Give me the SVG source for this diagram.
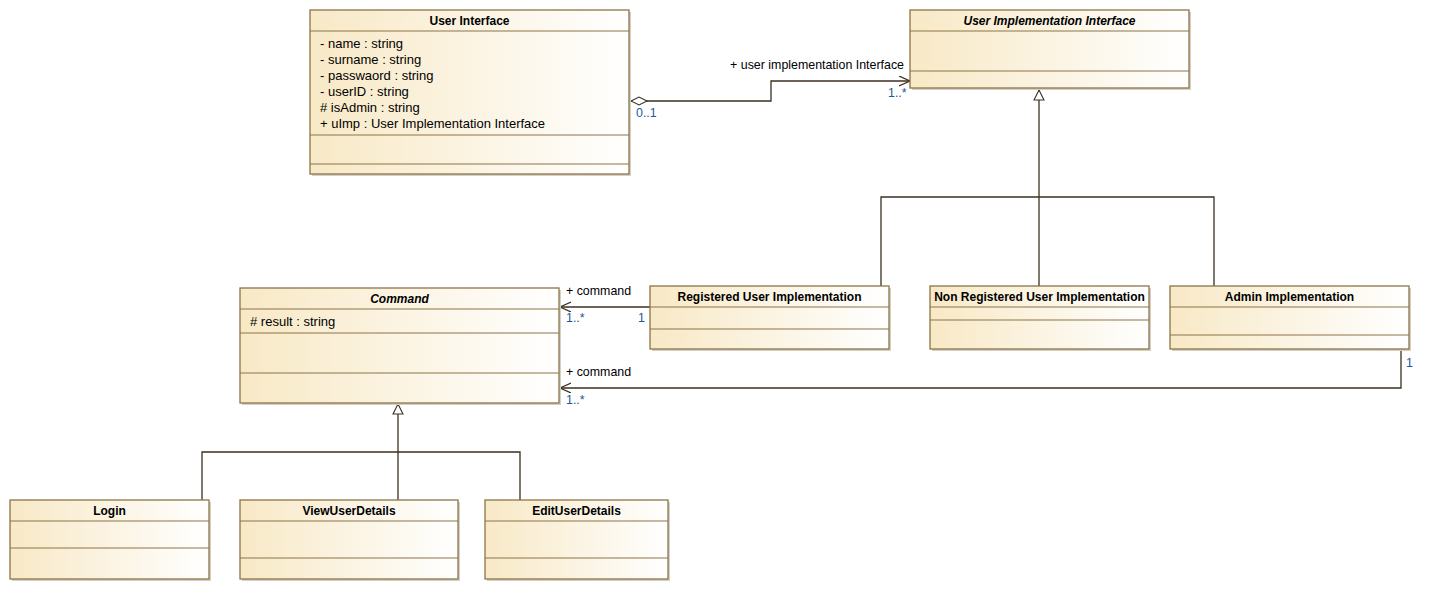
<svg xmlns="http://www.w3.org/2000/svg" width="1433" height="591" viewBox="0 0 1433 591">
<style>
.box{fill:url(#g);stroke:#8c7548;stroke-width:1.3}
.sh{fill:#d4d0c8}
.sep{stroke:#8c7548;stroke-width:1.2;fill:none}
.t{font-family:"Liberation Sans",Arial,sans-serif;font-size:12px;font-weight:bold;fill:#000;text-anchor:middle}
.ti{font-style:italic}
.a{font-family:"Liberation Sans",Arial,sans-serif;font-size:13px;fill:#000}
.r{font-family:"Liberation Sans",Arial,sans-serif;font-size:12.4px;fill:#000}
.m{font-family:"Liberation Sans",Arial,sans-serif;font-size:12.4px;fill:#1a5a9a}
.ln{stroke:#3b3020;stroke-width:1.3;fill:none}
</style>
<defs>
<linearGradient id="g" x1="0" y1="0" x2="1" y2="0">
<stop offset="0" stop-color="#f8e9c6"/>
<stop offset="1" stop-color="#ffffff"/>
</linearGradient>
<marker id="open" markerWidth="12" markerHeight="12" refX="11" refY="5" orient="auto" markerUnits="userSpaceOnUse">
<path d="M0,0 L11,5 L0,10" fill="none" stroke="#3b3020" stroke-width="1.2"/>
</marker>
<marker id="tri" markerWidth="14" markerHeight="14" refX="11" refY="6" orient="auto" markerUnits="userSpaceOnUse">
<path d="M1,1 L11,6 L1,11 Z" fill="#fff" stroke="#3b3020" stroke-width="1.1"/>
</marker>
<marker id="dia" markerWidth="20" markerHeight="12" refX="1" refY="5" orient="auto" markerUnits="userSpaceOnUse">
<path d="M1,5 L9,1 L17,5 L9,9 Z" fill="#fff" stroke="#3b3020" stroke-width="1.1"/>
</marker>
</defs>

<g id="connectors">
<path class="ln" d="M631,101 L771,101 L771,81 L910,81" marker-start="url(#dia)" marker-end="url(#open)"/>
<text class="r" x="904" y="69" text-anchor="end">+ user implementation Interface</text>
<text class="m" x="888" y="97">1..*</text>
<text class="m" x="636" y="117">0..1</text>
<path class="ln" d="M1039,197 L1039,90" marker-end="url(#tri)"/>
<path class="ln" d="M881,286 L881,197 L1214,197 L1214,286"/>
<path class="ln" d="M1039,197 L1039,286"/>
<path class="ln" d="M650,307 L560,307" marker-end="url(#open)"/>
<text class="r" x="566" y="295">+ command</text>
<text class="m" x="566" y="322">1..*</text>
<text class="m" x="638" y="322">1</text>
<path class="ln" d="M1401,349 L1401,388 L560,388" marker-end="url(#open)"/>
<text class="r" x="566" y="376">+ command</text>
<text class="m" x="566" y="404">1..*</text>
<text class="m" x="1406" y="367">1</text>
<path class="ln" d="M398,452 L398,404" marker-end="url(#tri)"/>
<path class="ln" d="M202,500 L202,452 L520,452 L520,500"/>
<path class="ln" d="M398,452 L398,500"/>
</g>

<g id="user-interface">
<rect class="sh" x="312" y="12" width="319" height="164"/>
<rect class="box" x="310" y="10" width="319" height="164"/>
<path class="sep" d="M310,31 H629 M310,135 H629 M310,164 H629"/>
<text class="t" x="469.5" y="25">User Interface</text>
<text class="a" x="320" y="48">- name : string</text>
<text class="a" x="320" y="64">- surname : string</text>
<text class="a" x="320" y="80">- passwaord : string</text>
<text class="a" x="320" y="96">- userID : string</text>
<text class="a" x="320" y="112"># isAdmin : string</text>
<text class="a" x="320" y="128">+ uImp : User Implementation Interface</text>
</g>

<g id="user-implementation-interface">
<rect class="sh" x="912" y="12" width="279" height="78"/>
<rect class="box" x="910" y="10" width="279" height="78"/>
<path class="sep" d="M910,31 H1189 M910,71 H1189"/>
<text class="t ti" x="1049.5" y="25">User Implementation Interface</text>
</g>

<g id="registered-user-implementation">
<rect class="sh" x="652" y="288" width="239" height="63"/>
<rect class="box" x="650" y="286" width="239" height="63"/>
<path class="sep" d="M650,307 H889 M650,329 H889"/>
<text class="t" x="769.5" y="301">Registered User Implementation</text>
</g>

<g id="non-registered-user-implementation">
<rect class="sh" x="932" y="288" width="219" height="63"/>
<rect class="box" x="930" y="286" width="219" height="63"/>
<path class="sep" d="M930,307 H1149 M930,320 H1149"/>
<text class="t" x="1039.5" y="301">Non Registered User Implementation</text>
</g>

<g id="admin-implementation">
<rect class="sh" x="1172" y="288" width="239" height="63"/>
<rect class="box" x="1170" y="286" width="239" height="63"/>
<path class="sep" d="M1170,307 H1409 M1170,335 H1409"/>
<text class="t" x="1289.5" y="301">Admin Implementation</text>
</g>

<g id="command">
<rect class="sh" x="242" y="290" width="319" height="115"/>
<rect class="box" x="240" y="288" width="319" height="115"/>
<path class="sep" d="M240,309 H559 M240,333 H559 M240,373 H559"/>
<text class="t ti" x="399.5" y="303">Command</text>
<text class="a" x="250" y="326"># result : string</text>
</g>

<g id="login">
<rect class="sh" x="12" y="502" width="199" height="79"/>
<rect class="box" x="10" y="500" width="199" height="79"/>
<path class="sep" d="M10,521 H209 M10,548 H209"/>
<text class="t" x="109.5" y="515">Login</text>
</g>

<g id="view-user-details">
<rect class="sh" x="242" y="502" width="218" height="79"/>
<rect class="box" x="240" y="500" width="218" height="79"/>
<path class="sep" d="M240,521 H458 M240,558 H458"/>
<text class="t" x="349" y="515">ViewUserDetails</text>
</g>

<g id="edit-user-details">
<rect class="sh" x="487" y="502" width="183" height="79"/>
<rect class="box" x="485" y="500" width="183" height="79"/>
<path class="sep" d="M485,521 H668 M485,558 H668"/>
<text class="t" x="576.5" y="515">EditUserDetails</text>
</g>
</svg>
